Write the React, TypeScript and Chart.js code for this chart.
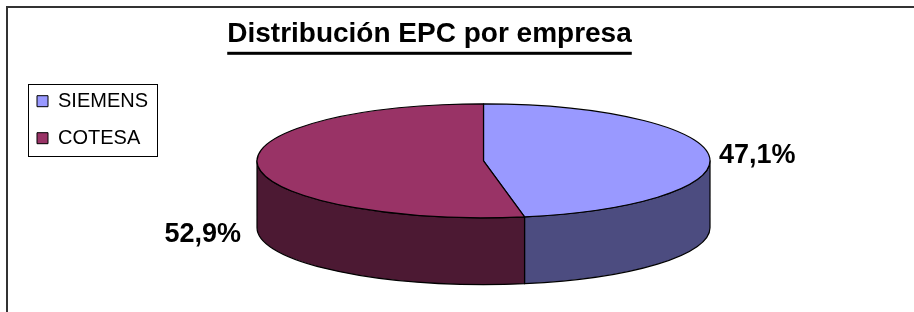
import React, { useEffect, useRef } from 'react';
import { Chart, registerables, layouts } from 'chart.js';

Chart.register(...registerables);

// ---- data ----
const TITLE = 'Distribución EPC por empresa';
const CATEGORIES = ['SIEMENS', 'COTESA'];
const VALUES = [47.1, 52.9];
const TOP_COLORS = ['#9999FF', '#993366'];
const SIDE_COLORS = ['#4C4C80', '#4C1933'];

// ---- styles ----
const FONT = '"Liberation Sans", Arial, Helvetica, sans-serif';
const TITLE_SIZE = 28;
const TITLE_PAD_TOP = 17;
const TITLE_PAD_BOTTOM = 23.6;
const LEGEND_SIZE = 20;
const LEGEND_PAD = 17;
const LEGEND_BOX = 11;
const LABEL_SIZE = 27;
const RIGHT_GAP = 30;
// 3D projection ratios relative to the pie radius computed by Chart.js
const K_RX = 1.913;
const K_RY = 0.481;
const K_DEPTH = 0.565;
const K_CY = -0.273;

const rightSpacer = {
  id: 'rightSpacer',
  beforeInit(chart: any) {
    const box: any = {
      position: 'right',
      weight: 0,
      fullSize: false,
      options: {},
      left: 0,
      top: 0,
      right: 0,
      bottom: 0,
      width: 0,
      height: 0,
      isHorizontal() {
        return false;
      },
      update(_maxWidth: number, maxHeight: number) {
        this.width = RIGHT_GAP;
        this.height = maxHeight;
      },
      getPadding() {
        return { top: 0, left: 0, right: 0, bottom: 0 };
      },
      draw() {},
    };
    layouts.addBox(chart, box);
  },
};

const pie3d = {
  id: 'pie3d',
  beforeDraw(chart: any) {
    const ctx = chart.ctx;
    ctx.save();
    ctx.fillStyle = '#ffffff';
    ctx.fillRect(0, 0, chart.width, chart.height);
    ctx.fillStyle = '#333333';
    ctx.fillRect(6, 6, chart.width, 2);
    ctx.fillRect(6, 6, 2, chart.height);
    ctx.restore();
  },
  beforeDatasetsDraw(chart: any) {
    const ctx = chart.ctx;
    const meta = chart.getDatasetMeta(0);
    const arcs = meta.data;
    if (!arcs.length) return false;
    const p0 = arcs[0].getProps(['x', 'y', 'outerRadius'], true);
    const R = p0.outerRadius;
    const ex = p0.x;
    const ey = p0.y + K_CY * R;
    const rx = R * K_RX;
    const ry = R * K_RY;
    const d = R * K_DEPTH;
    ctx.save();
    ctx.lineWidth = 1.2;
    ctx.strokeStyle = '#000000';
    ctx.lineJoin = 'round';
    // side walls (front half only)
    arcs.forEach((arc: any, i: number) => {
      const { startAngle: s, endAngle: e } = arc.getProps(['startAngle', 'endAngle'], true);
      const ranges = [
        [0, Math.PI],
        [2 * Math.PI, 3 * Math.PI],
        [-2 * Math.PI, -Math.PI],
      ];
      for (const [lo, hi] of ranges) {
        const a1 = Math.max(s, lo);
        const a2 = Math.min(e, hi);
        if (a2 <= a1) continue;
        ctx.beginPath();
        ctx.ellipse(ex, ey, rx, ry, 0, a1, a2, false);
        ctx.lineTo(ex + rx * Math.cos(a2), ey + d + ry * Math.sin(a2));
        ctx.ellipse(ex, ey + d, rx, ry, 0, a2, a1, true);
        ctx.closePath();
        ctx.fillStyle = SIDE_COLORS[i % SIDE_COLORS.length];
        ctx.fill();
        ctx.stroke();
      }
    });
    // top faces
    arcs.forEach((arc: any) => {
      const { startAngle: s, endAngle: e } = arc.getProps(['startAngle', 'endAngle'], true);
      ctx.beginPath();
      ctx.moveTo(ex, ey);
      ctx.ellipse(ex, ey, rx, ry, 0, s, e, false);
      ctx.closePath();
      ctx.fillStyle = arc.options.backgroundColor;
      ctx.fill();
      ctx.stroke();
    });
    // percentage labels
    const data = chart.data.datasets[0].data as number[];
    const total = data.reduce((a, b) => a + b, 0);
    ctx.font = `bold ${LABEL_SIZE}px ${FONT}`;
    ctx.fillStyle = '#000000';
    ctx.textBaseline = 'middle';
    arcs.forEach((arc: any, i: number) => {
      const { startAngle: s, endAngle: e } = arc.getProps(['startAngle', 'endAngle'], true);
      const m = (s + e) / 2;
      const px = ex + rx * Math.cos(m);
      const py = ey + ry * Math.sin(m);
      const txt = ((data[i] / total) * 100).toFixed(1).replace('.', ',') + '%';
      const low = Math.sin(m) > 0 ? d + 2 : 0;
      if (Math.cos(m) >= 0) {
        ctx.textAlign = 'left';
        ctx.fillText(txt, px + 10, py + low);
      } else {
        ctx.textAlign = 'right';
        ctx.fillText(txt, px - 17, py + low);
      }
    });
    ctx.restore();
    return false;
  },
  afterDraw(chart: any) {
    const ctx = chart.ctx;
    ctx.save();
    // title underline
    const tb = chart.titleBlock;
    if (tb) {
      ctx.font = `bold ${TITLE_SIZE}px ${FONT}`;
      const w = ctx.measureText(TITLE).width;
      const cx = (tb.left + tb.right) / 2;
      const cy = tb.top + TITLE_PAD_TOP + (TITLE_SIZE * 1.2) / 2;
      ctx.fillStyle = '#000000';
      ctx.fillRect(cx - w / 2, cy + 18, w, 3);
    }
    // legend frame
    const lg = chart.legend;
    if (lg) {
      ctx.font = `${LEGEND_SIZE}px ${FONT}`;
      const maxText = Math.max(...CATEGORIES.map((c) => ctx.measureText(c).width));
      const itemX = lg.left + LEGEND_PAD;
      const itemTop = lg.top + LEGEND_PAD;
      const n = CATEGORIES.length;
      const left = Math.round(itemX - 9) + 0.5;
      const top = Math.round(itemTop - 7) + 0.5;
      const right = Math.round(itemX + LEGEND_BOX + LEGEND_SIZE / 2 + maxText + 9) + 0.5;
      const bottom = Math.round(itemTop + n * (LEGEND_SIZE + LEGEND_PAD) - LEGEND_PAD + 8) + 0.5;
      ctx.strokeStyle = '#000000';
      ctx.lineWidth = 1;
      ctx.strokeRect(left, top, right - left, bottom - top);
    }
    ctx.restore();
  },
};

export default function App() {
  const ref = useRef<HTMLCanvasElement | null>(null);
  useEffect(() => {
    document.body.style.margin = '0';
    const canvas = ref.current;
    if (!canvas) return;
    const chart = new Chart(canvas, {
      type: 'pie',
      data: {
        labels: CATEGORIES,
        datasets: [
          {
            data: VALUES,
            backgroundColor: TOP_COLORS,
            borderColor: '#000000',
            borderWidth: 1,
          },
        ],
      },
      options: {
        responsive: false,
        animation: false,
        devicePixelRatio: 1,
        events: [],
        layout: { padding: { left: 20, right: 75, top: 0, bottom: 0 } },
        plugins: {
          title: {
            display: true,
            text: TITLE,
            color: '#000000',
            font: { family: FONT, size: TITLE_SIZE, weight: 'bold', lineHeight: 1.2 },
            padding: { top: TITLE_PAD_TOP, bottom: TITLE_PAD_BOTTOM },
          },
          legend: {
            display: true,
            position: 'left',
            align: 'start',
            fullSize: false,
            labels: {
              color: '#000000',
              font: { family: FONT, size: LEGEND_SIZE },
              boxWidth: LEGEND_BOX,
              boxHeight: LEGEND_BOX,
              padding: LEGEND_PAD,
            },
          },
          tooltip: { enabled: false },
        },
      } as any,
      plugins: [rightSpacer, pie3d],
    });
    return () => chart.destroy();
  }, []);
  return (
    <div style={{ width: 914, height: 312 }}>
      <canvas ref={ref} width={914} height={312} style={{ display: 'block' }} />
    </div>
  );
}
